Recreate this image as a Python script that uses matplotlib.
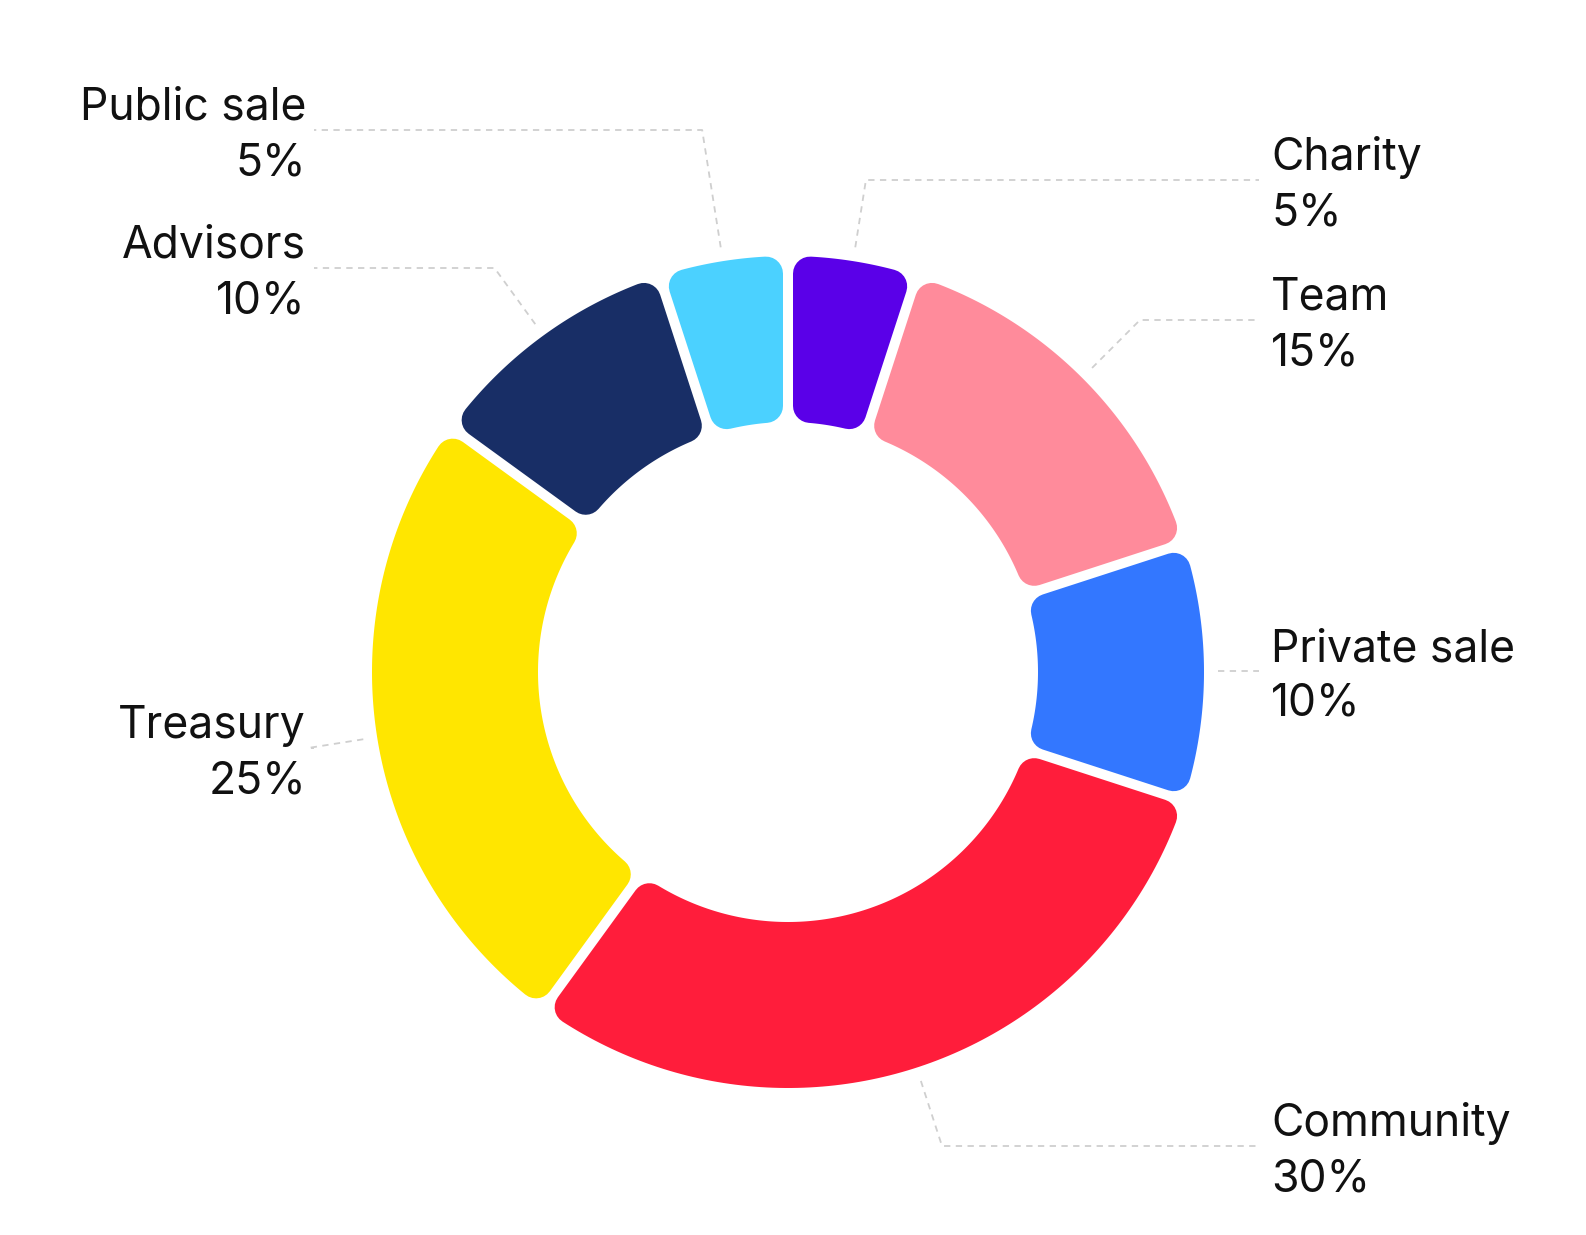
import numpy as np
import matplotlib
matplotlib.use("Agg")
import matplotlib.pyplot as plt
from matplotlib.patches import Polygon

# data, clockwise from 12 o'clock
labels = ["Charity", "Team", "Private sale", "Community", "Treasury", "Advisors", "Public sale"]
shares = [5, 15, 10, 30, 25, 10, 5]
colors = ["#5A00E8", "#FF8B9B", "#3377FF", "#FF1D3B", "#FFE600", "#182E66", "#4BD1FF"]

# label layout (pixel units, y down)
label_side = ["right", "right", "right", "right", "left", "left", "left"]
label_line_y = [180, 320, 671, 1146, 748, 268, 130]

W, H = 1586, 1235
cx, cy = 788, 672
r_out, r_in = 416, 250
gap = 10
corner = 17
x_left, x_right = 306, 1271

plt.rcParams['font.family'] = ['Inter', 'DejaVu Sans']

fig = plt.figure(figsize=(W / 100, H / 100), dpi=100)
ax = fig.add_axes([0, 0, 1, 1])
ax.set_xlim(0, W)
ax.set_ylim(H, 0)
ax.set_aspect('equal')
ax.axis('off')


def pt(r, a):
    return cx + r * np.sin(a), cy - r * np.cos(a)


total = sum(shares)
start = 0.0
lw = 2 * corner * 72 / 100
for lab, val, col, side, ly in zip(labels, shares, colors, label_side, label_line_y):
    a1 = 2 * np.pi * start / total
    a2 = 2 * np.pi * (start + val) / total
    start += val
    d = gap / 2 + corner
    ro, ri = r_out - corner, r_in + corner
    to = np.linspace(a1 + np.arcsin(d / ro), a2 - np.arcsin(d / ro), 120)
    ti = np.linspace(a2 - np.arcsin(d / ri), a1 + np.arcsin(d / ri), 120)
    xs = np.concatenate([cx + ro * np.sin(to), cx + ri * np.sin(ti)])
    ys = np.concatenate([cy - ro * np.cos(to), cy - ri * np.cos(ti)])
    ax.add_patch(Polygon(np.column_stack([xs, ys]), closed=True, facecolor=col,
                         edgecolor=col, linewidth=lw, joinstyle='round'))

    # leader line
    am = (a1 + a2) / 2
    sx, sy = pt(r_out + 14, am)
    end_x = x_right - 12 if side == "right" else x_left + 8
    if abs(np.cos(am)) > 1e-3:
        re = (cy - ly) / np.cos(am)
        ex, ey = pt(re, am)
        lx, lyy = [sx, ex, end_x], [sy, ey, ly]
    else:
        lx, lyy = [sx, end_x], [ly, ly]
    ax.plot(lx, lyy, color="#cfcfcf", lw=1.3, ls=(0, (3.5, 3)), solid_capstyle='butt')

    ha = 'left' if side == "right" else 'right'
    tx = x_right if side == "right" else x_left
    ax.text(tx, ly - 10, lab, ha=ha, va='baseline', fontsize=32, color="#111111")
    ax.text(tx, ly + 45, f"{val}%", ha=ha, va='baseline', fontsize=32, color="#111111")

fig.savefig("out.png", dpi=100, facecolor="white")
